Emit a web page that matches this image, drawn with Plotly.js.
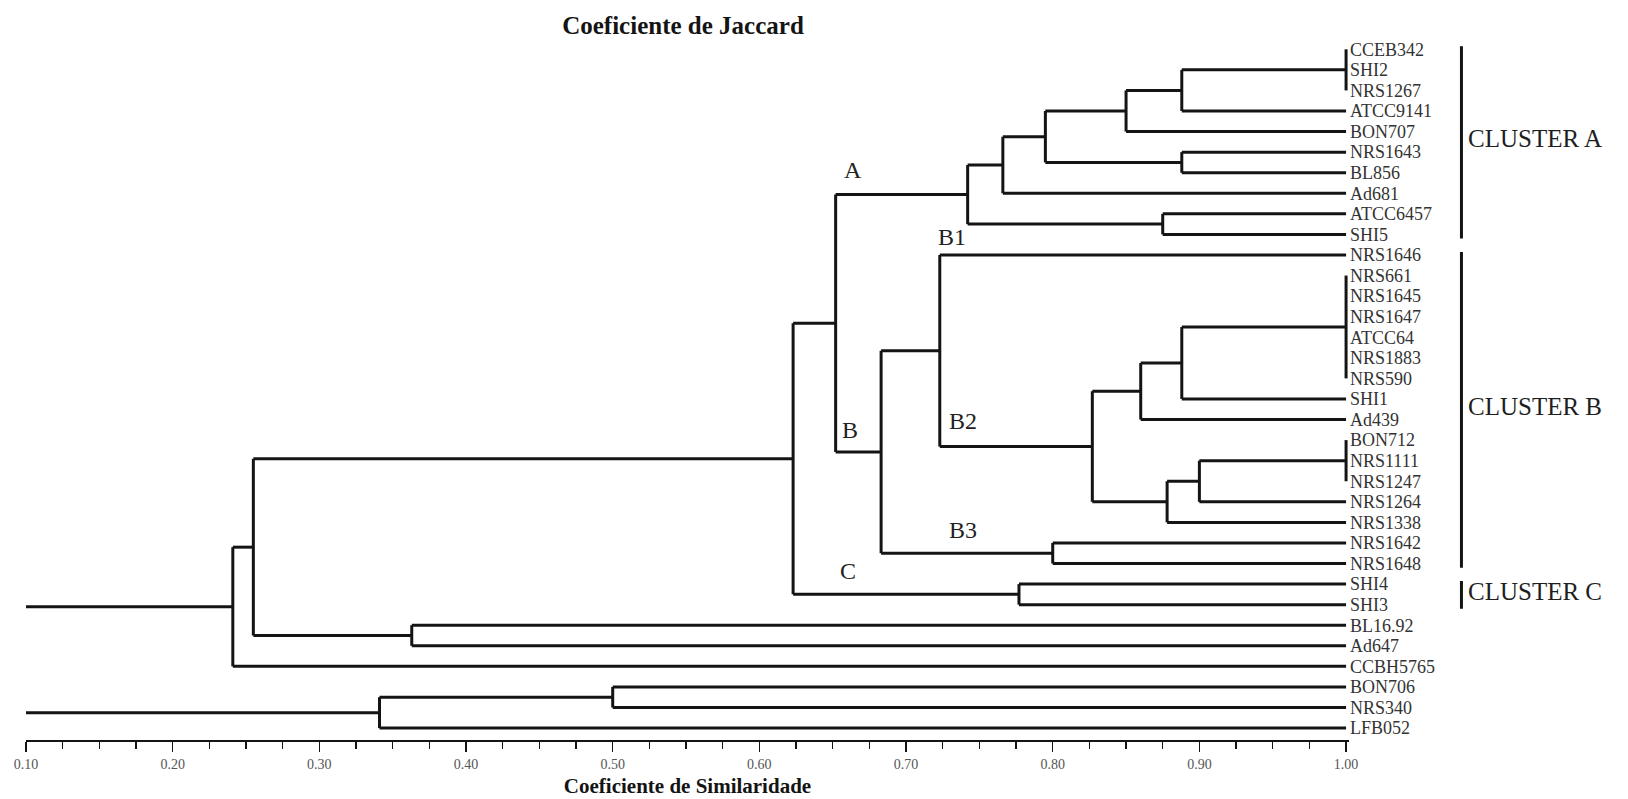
<!DOCTYPE html>
<html>
<head>
<meta charset="utf-8">
<script src="https://cdn.plot.ly/plotly-3.0.1.min.js"></script>
<style>
html,body{margin:0;padding:0;background:#fff;}
#chart{width:1628px;height:799px;}
</style>
</head>
<body>
<div id="chart"></div>
<script>
// ---------- DATA ----------
const leaves = ["CCEB342","SHI2","NRS1267","ATCC9141","BON707","NRS1643","BL856","Ad681","ATCC6457","SHI5",
  "NRS1646","NRS661","NRS1645","NRS1647","ATCC64","NRS1883","NRS590","SHI1","Ad439","BON712","NRS1111",
  "NRS1247","NRS1264","NRS1338","NRS1642","NRS1648","SHI4","SHI3","BL16.92","Ad647","CCBH5765",
  "BON706","NRS340","LFB052"];

const nodeIds = ["a1","a2","a3","a4","a5","a6","a7","A",
  "b1","b2","b3","b4","b5","b6","B2","B12","B3","B",
  "AB","C","ABC","r1","r2","r3","q1","q2"];

const nodeSimilarity = [1.00,0.888,0.850,0.888,0.795,0.766,0.875,0.742,
  1.00,0.888,0.860,1.00,0.900,0.878,0.827,0.723,0.800,0.683,
  0.652,0.777,0.623,0.363,0.255,0.241,0.500,0.341];

const nodeChildren = [[0,1,2],["a1",3],["a2",4],[5,6],["a3","a4"],["a5",7],[8,9],["a6","a7"],
  [11,12,13,14,15,16],["b1",17],["b2",18],[19,20,21],["b4",22],["b5",23],["b3","b6"],[10,"B2"],[24,25],["B12","B3"],
  ["A","B"],[26,27],["AB","C"],[28,29],["ABC","r1"],["r2",30],[31,32],["q1",33]];

const rootIds = ["r3","q2"];

const xTickVals = [0.1,0.2,0.3,0.4,0.5,0.6,0.7,0.8,0.9,1.0];

const branchLabels = ["A","B","C","B1","B2","B3"];
const branchParent = ["AB","AB","ABC","B12","B12","B"];
const branchChild  = ["A","B","C",10,"B2","B3"];

const clusterNames = ["CLUSTER A","CLUSTER B","CLUSTER C"];
const clusterFirst = [0,10,26];
const clusterLast  = [9,25,27];

// ---------- STYLE ----------
const SERIF = "Liberation Serif, Times New Roman, serif";
const INK = "#141414";
const labelShiftX = [17,14,55,12,23,82];
const labelShiftY = [25,22,23,18,26,23];
const xMin = 0.1, xMax = 1.002;

// ---------- BUILD TREE GEOMETRY ----------
const simOf = {}, childrenOf = {};
nodeIds.forEach((id,i)=>{ simOf[id]=nodeSimilarity[i]; childrenOf[id]=nodeChildren[i]; });
const yCache = {};
function nodeY(c){
  if (typeof c === "number") return c;
  if (yCache[c] !== undefined) return yCache[c];
  const ch = childrenOf[c];
  const v = (nodeY(ch[0]) + nodeY(ch[ch.length-1]))/2;
  yCache[c] = v; return v;
}
function nodeX(c){ return (typeof c === "number") ? 1.0 : simOf[c]; }

const lx = [], ly = [];
function seg(x0,y0,x1,y1){ lx.push(x0,x1,null); ly.push(y0,y1,null); }
nodeIds.forEach(id=>{
  const ch = childrenOf[id], x = simOf[id];
  const ys = ch.map(nodeY);
  ch.forEach((c,k)=>{ if (nodeX(c) > x) seg(x, ys[k], nodeX(c), ys[k]); });
  seg(x, Math.min(...ys), x, Math.max(...ys));
});
rootIds.forEach(r=>{ seg(xMin, nodeY(r), simOf[r], nodeY(r)); });

const traces = [{
  type:"scatter", mode:"lines", x:lx, y:ly,
  line:{color:INK, width:3}, hoverinfo:"skip", showlegend:false
}];

const annotations = branchLabels.map((t,i)=>({
  text:t, x:simOf[branchParent[i]], y:nodeY(branchChild[i]), xref:"x", yref:"y",
  xanchor:"center", yanchor:"middle", xshift:labelShiftX[i], yshift:labelShiftY[i],
  showarrow:false, font:{family:SERIF, size:24, color:"#222"}
}));

const barX = 1.085, padTop = 0.15, padBottom = 0.2;
const shapes = [];
clusterNames.forEach((n,i)=>{
  shapes.push({type:"line", xref:"paper", yref:"y", x0:barX, x1:barX,
    y0:clusterFirst[i]-padTop, y1:clusterLast[i]+padBottom, line:{color:INK, width:3}});
  annotations.push({text:n, xref:"paper", yref:"y", x:barX, xshift:5,
    y:(clusterFirst[i]+clusterLast[i])/2, yshift:3, xanchor:"left", yanchor:"middle",
    showarrow:false, font:{family:SERIF, size:25, color:"#1e1e1e"}});
});

const layout = {
  width:1628, height:799,
  margin:{l:26, r:279, t:39, b:59, pad:0},
  paper_bgcolor:"#fff", plot_bgcolor:"#fff",
  showlegend:false,
  title:{text:"Coeficiente de Jaccard", x:683/1628, xanchor:"center", xref:"container",
    y:1-25/799, yanchor:"middle", yref:"container",
    font:{family:SERIF, size:25, weight:700, color:"#141414"}},
  xaxis:{
    range:[xMin, xMax], autorange:false, showgrid:false, zeroline:false,
    showline:true, linecolor:INK, linewidth:2,
    tickmode:"array", tickvals:xTickVals, tickformat:".2f",
    ticks:"outside", ticklen:10, tickwidth:1.5, tickcolor:INK,
    minor:{dtick:0.025, tick0:0.1, ticks:"outside", ticklen:7, tickwidth:1.5, tickcolor:INK, showgrid:false},
    tickfont:{family:SERIF, size:14, color:"#555"},
    title:{text:"Coeficiente de Similaridade", standoff:8,
      font:{family:SERIF, size:21, weight:700, color:"#141414"}},
    fixedrange:true
  },
  yaxis:{
    range:[33.58, -0.5], autorange:false, side:"right", anchor:"x",
    showgrid:false, zeroline:false, showline:false, ticks:"",
    tickmode:"array", tickvals:leaves.map((_,i)=>i), ticktext:leaves,
    tickfont:{family:SERIF, size:18, color:"#333"},
    fixedrange:true
  },
  shapes:shapes,
  annotations:annotations
};

Plotly.newPlot("chart", traces, layout, {staticPlot:true, displayModeBar:false});
</script>
</body>
</html>
